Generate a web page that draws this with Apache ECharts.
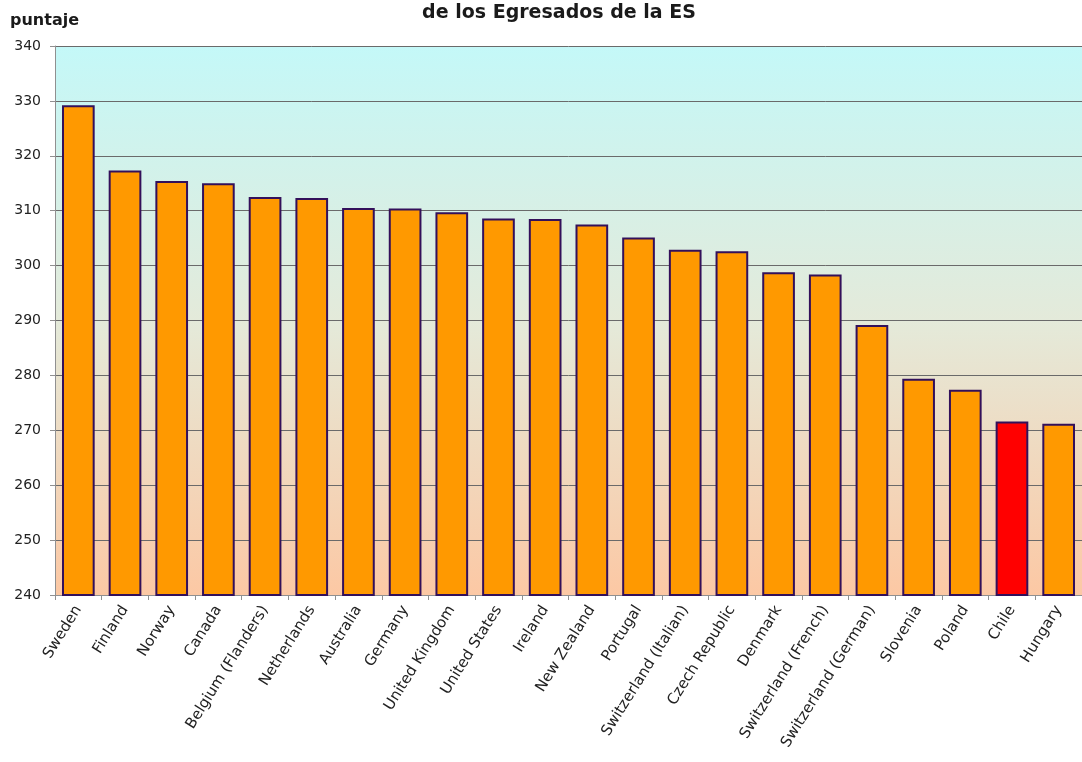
<!DOCTYPE html>
<html>
<head>
<meta charset="utf-8">
<script src="https://cdn.jsdelivr.net/npm/echarts@6/dist/echarts.min.js"></script>
<style>
  html, body { margin: 0; padding: 0; background: #fff; }
  #main { width: 1082px; height: 762px; }
</style>
</head>
<body>
<div id="main"></div>
<script>
let countries = ['Sweden', 'Finland', 'Norway', 'Canada', 'Belgium (Flanders)', 'Netherlands',
    'Australia', 'Germany', 'United Kingdom', 'United States', 'Ireland', 'New Zealand',
    'Portugal', 'Switzerland (Italian)', 'Czech Republic', 'Denmark', 'Switzerland (French)',
    'Switzerland (German)', 'Slovenia', 'Poland', 'Chile', 'Hungary'];
let scores = [329.2, 317.3, 315.4, 315.0, 312.5, 312.3, 310.5, 310.4, 309.7, 308.6, 308.5, 307.5,
    305.1, 302.9, 302.6, 298.8, 298.4, 289.2, 279.4, 277.4, 271.6, 271.2];
let highlight = 'Chile';
let yTicks = { min: 240, max: 340, step: 10 };

let chartDom = document.getElementById('main');
let myChart = echarts.init(chartDom);

let barData = scores.map(function (v, i) {
    return {
        value: v,
        itemStyle: { color: countries[i] === highlight ? '#ff0000' : '#ff9900' }
    };
});

let option = {
    animation: false,
    title: {
        text: 'de los Egresados de la ES',
        left: 554,
        textAlign: 'center',
        top: -1,
        textStyle: { fontFamily: 'DejaVu Sans', fontSize: 19, fontWeight: 'bold', color: '#1a1a1a' }
    },
    graphic: [{
        type: 'text',
        left: 10,
        top: 13,
        style: { text: 'puntaje', font: 'bold 16px "DejaVu Sans"', fill: '#1a1a1a' }
    }],
    grid: {
        left: 55,
        right: 0,
        top: 46,
        bottom: 167,
        show: true,
        borderWidth: 0,
        backgroundColor: new echarts.graphic.LinearGradient(0, 0, 0, 1, [
            { offset: 0, color: '#c4f8f8' },
            { offset: 0.5, color: '#e4eada' },
            { offset: 1, color: '#fcc8a4' }
        ])
    },
    xAxis: {
        type: 'category',
        data: countries,
        axisLine: { lineStyle: { color: '#909090', width: 1 } },
        axisTick: { show: true, length: 5, lineStyle: { color: '#909090' } },
        axisLabel: {
            interval: 0,
            rotate: 58,
            margin: 12,
            fontFamily: 'DejaVu Sans',
            fontSize: 15,
            color: '#222'
        }
    },
    yAxis: {
        type: 'value',
        min: yTicks.min,
        max: yTicks.max,
        interval: yTicks.step,
        axisLine: { show: true, lineStyle: { color: '#909090' } },
        axisTick: { show: true, length: 5, lineStyle: { color: '#909090' } },
        axisLabel: { fontFamily: 'DejaVu Sans', fontSize: 14, color: '#222', margin: 14 },
        splitLine: { lineStyle: { color: '#6a6a6a', width: 1 } }
    },
    series: [{
        type: 'bar',
        data: barData,
        barWidth: '70%',
        itemStyle: { borderColor: '#33105a', borderWidth: 2 }
    }]
};

myChart.setOption(option);
</script>
</body>
</html>
